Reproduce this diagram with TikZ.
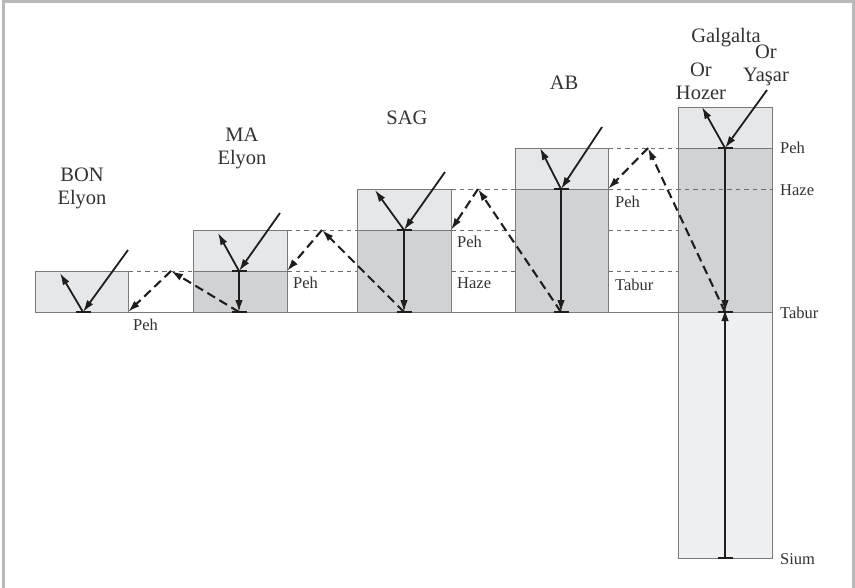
\documentclass[tikz,border=0pt]{standalone}
\usepackage{fontspec}
\setmainfont{Liberation Serif}
\usetikzlibrary{arrows.meta}
\definecolor{lightf}{HTML}{E6E7E9}
\definecolor{darkf}{HTML}{D1D2D4}
\definecolor{palef}{HTML}{EFF0F2}
\definecolor{edgec}{HTML}{7A7A7A}
\definecolor{framec}{HTML}{B9B9B9}
\definecolor{txtc}{HTML}{333333}
\definecolor{inkc}{HTML}{1E1E1E}
\begin{document}
\begin{tikzpicture}[x=1pt,y=-1pt,
  boxedge/.style={draw=edgec,line width=1pt},
  guide/.style={draw=gray!85!black,line width=0.9pt,dash pattern=on 4.5pt off 4pt},
  ray/.style={draw=inkc,line width=1.8pt,-{Latex[length=12pt,width=7.5pt]}},
  dray/.style={draw=inkc,line width=2.1pt,dash pattern=on 9pt off 5pt,-{Latex[length=12pt,width=7.5pt]}},
  vtick/.style={draw=inkc,line width=2.5pt},
  lab/.style={font=\fontsize{16.5}{18}\selectfont,text=txtc,inner sep=0,anchor=west},
  ttl/.style={font=\fontsize{20.5}{23}\selectfont,text=txtc,inner sep=0,align=center}]

\useasboundingbox (0,0) rectangle (855,587);
\fill[white] (0,0) rectangle (855,587);
\draw[framec,line width=3pt] (3,590) -- (3,1.5) -- (853,1.5) -- (853,590);

% key points
\coordinate (vB) at (83,312);  \coordinate (inB) at (128,250); \coordinate (outB) at (60,273);
\coordinate (vM) at (239,271); \coordinate (bM) at (239,312);  \coordinate (inM) at (280,213); \coordinate (outM) at (218,233);
\coordinate (vS) at (404,230); \coordinate (bS) at (404,312);  \coordinate (inS) at (445,172); \coordinate (outS) at (375,190);
\coordinate (vA) at (561,189); \coordinate (bA) at (561,312);  \coordinate (inA) at (602,127); \coordinate (outA) at (540,148);
\coordinate (vG) at (725,148); \coordinate (bG) at (725,312);  \coordinate (sG) at (725,558);  \coordinate (inG) at (767,90); \coordinate (outG) at (702,107);
\coordinate (p1) at (171,271); \coordinate (p2) at (322,230); \coordinate (p3) at (478,189); \coordinate (p4) at (648,148);
\coordinate (t1) at (128,312); \coordinate (t2) at (287,271); \coordinate (t3) at (451,230); \coordinate (t4) at (608,189);

% fills
\fill[lightf] (35,271) rectangle (128,312);
\fill[lightf] (193,230) rectangle (287,271);
\fill[darkf]  (193,271) rectangle (287,312);
\fill[lightf] (357,189) rectangle (451,230);
\fill[darkf]  (357,230) rectangle (451,312);
\fill[lightf] (515,148) rectangle (608,189);
\fill[darkf]  (515,189) rectangle (608,312);
\fill[lightf] (678,107) rectangle (772,148);
\fill[darkf]  (678,148) rectangle (772,312);
\fill[palef]  (678,312) rectangle (772,558);

% guide lines
\draw[guide] (128,271) -- (193,271) (287,271) -- (357,271) (451,271) -- (515,271) (608,271) -- (678,271);
\draw[guide] (287,230) -- (357,230) (451,230) -- (515,230) (608,230) -- (678,230);
\draw[guide] (451,189) -- (515,189) (608,189) -- (772,189);
\draw[guide] (608,148) -- (678,148);

% box outlines
\draw[boxedge] (35,271) rectangle (128,312);
\draw[boxedge] (193,230) rectangle (287,312) (193,271) -- (287,271);
\draw[boxedge] (357,189) rectangle (451,312) (357,230) -- (451,230);
\draw[boxedge] (515,148) rectangle (608,312) (515,189) -- (608,189);
\draw[boxedge] (678,107) rectangle (772,558) (678,148) -- (772,148);
\draw[boxedge] (35,312) -- (772,312);

% dashed reflected rays
\draw[dray] (bM) -- (p1); \draw[dray] (p1) -- (t1);
\draw[dray] (bS) -- (p2); \draw[dray] (p2) -- (t2);
\draw[dray] (bA) -- (p3); \draw[dray] (p3) -- (t3);
\draw[dray] (bG) -- (p4); \draw[dray] (p4) -- (t4);

% solid rays
\draw[ray] (inB) -- (vB); \draw[ray] (vB) -- (outB);
\draw[ray] (inM) -- (vM); \draw[ray] (vM) -- (outM); \draw[ray] (vM) -- (bM);
\draw[ray] (inS) -- (vS); \draw[ray] (vS) -- (outS); \draw[ray] (vS) -- (bS);
\draw[ray] (inA) -- (vA); \draw[ray] (vA) -- (outA); \draw[ray] (vA) -- (bA);
\draw[ray] (inG) -- (vG); \draw[ray] (vG) -- (outG); \draw[ray] (vG) -- (bG);
\draw[ray] (sG) -- ([yshift=3pt]bG);

% ticks
\foreach \c in {vB,vM,bM,vS,bS,vA,bA,vG,bG,sG}
  \draw[vtick] ([xshift=-7.5pt]\c) -- ([xshift=7.5pt]\c);

% level labels
\node[lab] (l1) at (133,325) {Peh};
\node[lab] (l2) at (293,283) {Peh};
\node[lab] (l3) at (457,242) {Peh};
\node[lab] (l4) at (457,283) {Haze};
\node[lab] (l5) at (615,202) {Peh};
\node[lab] (l6) at (615,285) {Tabur};
\node[lab] (l7) at (780,148) {Peh};
\node[lab] (l8) at (780,190) {Haze};
\node[lab] (l9) at (780,313) {Tabur};
\node[lab] (l10) at (780,559) {Sium};

% titles
\node[ttl] (tB) at (82,188) {BON\\Elyon};
\node[ttl] (tM) at (242,148) {MA\\Elyon};
\node[ttl] (tS) at (407,118) {SAG};
\node[ttl] (tA) at (564,83) {AB};
\node[ttl] (tG) at (726,38) {Galgalta};
\node[ttl] (tY) at (766,65) {Or\\Yaşar};
\node[ttl] (tH) at (701,81) {Or\\Hozer};
\end{tikzpicture}
\end{document}
